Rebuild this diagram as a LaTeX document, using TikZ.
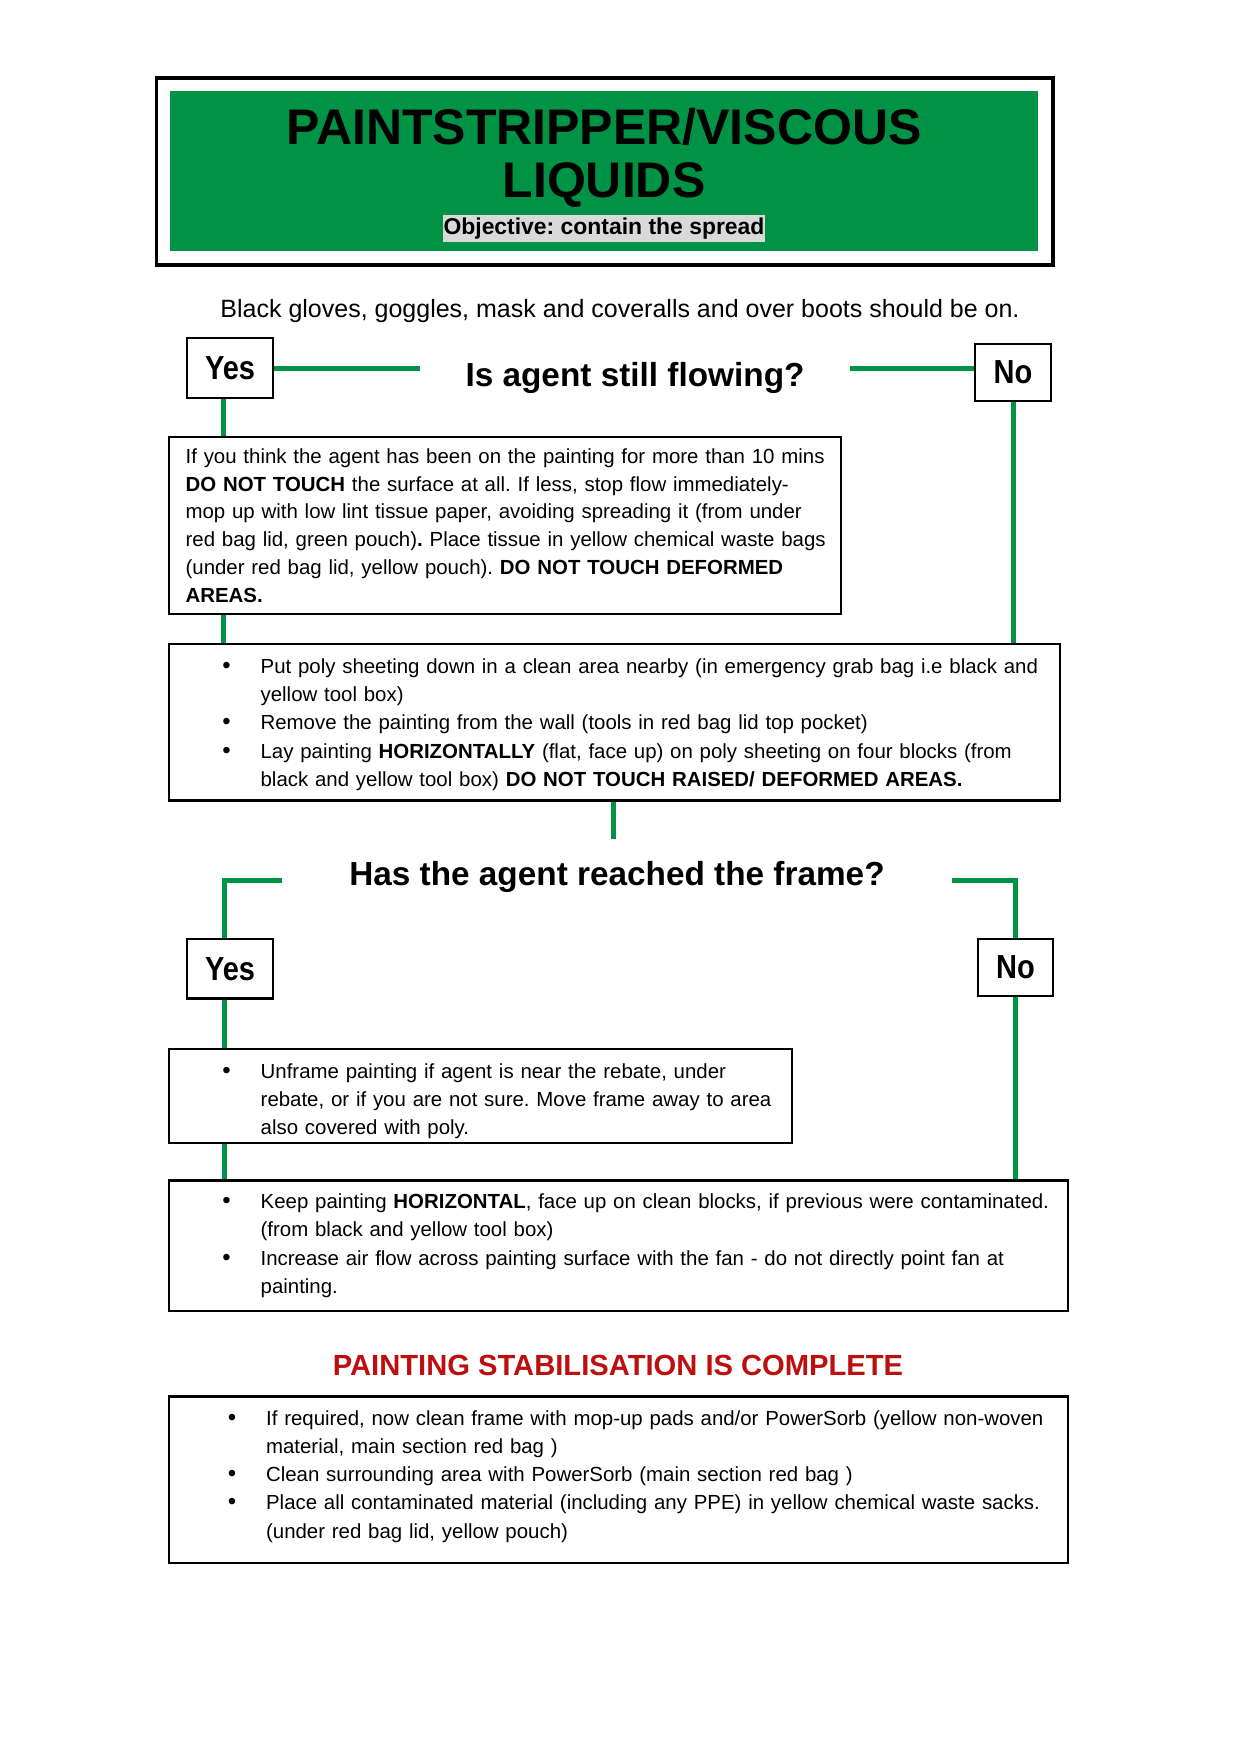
\documentclass[tikz,border=0pt]{standalone}
\usepackage{fontspec}
\setmainfont{Liberation Sans}
\newfontfamily\condb[FakeStretch=0.87]{Liberation Sans}
\usetikzlibrary{calc}
\AtBeginDocument{\frenchspacing}
\definecolor{fgreen}{RGB}{0,146,69}
\definecolor{objgray}{RGB}{217,217,217}
\definecolor{dred}{RGB}{190,15,15}
\newlength\bulind
\newlength\bulpos
\newcommand\bitem[1]{\par\hangindent=\bulind\hangafter=1\noindent\hbox to\bulind{\hskip\bulpos{\fontsize{11.5}{11.5}\selectfont\textbullet}\hfil}#1\par}
\newcommand\padb[1]{\par\vskip#1\hrule height 0pt\relax}
\newcommand\bodyfont{\fontsize{9.8}{13.3}\selectfont}
\newcommand\listfont{\fontsize{9.8}{13.55}\selectfont}
\newcommand\freeright{\raggedright\frenchspacing\rightskip=-40pt plus 1fil\relax}
\tikzset{
  infobox/.style={draw=black, line width=1.1pt, inner xsep=8pt, inner ysep=0pt, font=\bodyfont},
  listbox/.style={infobox, font=\listfont},
  ynbox/.style={draw=black, line width=1.1pt, inner sep=0pt, font=\condb\bfseries\fontsize{16}{18}\selectfont},
  question/.style={font=\bfseries\fontsize{16}{19}\selectfont, inner ysep=2pt},
  gline/.style={draw=fgreen, line width=2.4pt, line join=miter}
}
\begin{document}
\begin{tikzpicture}[x=0.48pt,y=-0.48pt]
\useasboundingbox (0,0) rectangle (1239,1753);
% title
\node[draw=black, line width=1.5pt, minimum width=430.3pt, minimum height=89.8pt, inner sep=0pt] (tbox) at (604.75,171.5) {};
\node[fill=fgreen, minimum width=416.6pt, minimum height=76.8pt, inner sep=0pt] (tgreen) at (604,170.5) {};
\node[font=\bfseries\fontsize{24}{28}\selectfont, inner sep=0pt] (t1) at (604,126.4) {PAINTSTRIPPER/VISCOUS};
\node[font=\bfseries\fontsize{24}{28}\selectfont, inner sep=0pt] (t2) at (604,184.5) {LIQUIDS};
\node[fill=objgray, font=\bfseries\fontsize{11}{13}\selectfont, minimum width=154.6pt, minimum height=12.7pt, inner sep=0pt] (obj) at (604,228.5) {Objective: contain the spread};
\node[font=\fontsize{12}{14}\selectfont, inner sep=0pt] (gloves) at (620,311) {Black gloves, goggles, mask and coveralls and over boots should be on.};
% first question
\node[ynbox, minimum width=41.3pt, minimum height=28.8pt] (yes1) at (230,368) {Yes};
\node[ynbox, minimum width=36.5pt, minimum height=27.4pt] (no1) at (1013,372.5) {No};
\node[question, inner xsep=21.6pt] (q1) at (635,378) {Is agent still flowing?};
\node[infobox, text width=306.6pt, minimum height=85pt] (b1) at (505,525.5) {\freeright
If you think the agent has been on the painting for more than 10 mins\newline
\textbf{DO NOT TOUCH} the surface at all. If less, stop flow immediately-\newline
mop up with low lint tissue paper, avoiding spreading it (from under\newline
red bag lid, green pouch)\textbf{.} Place tissue in yellow chemical waste bags\newline
(under red bag lid, yellow pouch). \textbf{DO NOT TOUCH DEFORMED}\newline
\textbf{AREAS.}\par};
\node[listbox, text width=411.7pt, minimum height=75.2pt] (b2) at (614.5,722.3) {\freeright\setlength\bulind{36pt}\setlength\bulpos{17.6pt}%
\bitem{Put poly sheeting down in a clean area nearby (in emergency grab bag i.e black and\newline yellow tool box)}%
\bitem{Remove the painting from the wall (tools in red bag lid top pocket)}%
\bitem{Lay painting \textbf{HORIZONTALLY} (flat, face up) on poly sheeting on four blocks (from\newline black and yellow tool box) \textbf{DO NOT TOUCH RAISED/ DEFORMED AREAS.}}\padb{4.3pt}};
\coordinate (yl1) at ([xshift=-3.1pt]yes1.south);
\draw[gline] (yes1.east) -- (yes1.east -| q1.west);
\draw[gline] (q1.east |- yes1.east) -- (no1.west |- yes1.east);
\draw[gline] (yl1) -- (yl1 |- b1.north);
\draw[gline] (yl1 |- b1.south) -- (yl1 |- b2.north);
\draw[gline] (no1.south) -- (no1.south |- b2.north);
% second question
\coordinate (v2) at (613,838.6);
\draw[gline] (b2.south -| v2) -- (v2);
\node[question, inner xsep=32pt] (q2) at (617,877.4) {Has the agent reached the frame?};
\node[ynbox, minimum width=41.3pt, minimum height=28.6pt] (yes2) at (230,968.75) {Yes};
\node[ynbox, minimum width=36pt, minimum height=27.4pt] (no2) at (1015.5,967.5) {No};
\node[listbox, text width=283pt, minimum height=45.1pt] (b3) at (480.5,1096) {\freeright\setlength\bulind{36pt}\setlength\bulpos{17.6pt}%
\bitem{Unframe painting if agent is near the rebate, under\newline rebate, or if you are not sure. Move frame away to area\newline also covered with poly.}\padb{1.7pt}};
\node[listbox, text width=415.5pt, minimum height=62.2pt] (b4) at (618.5,1245.75) {\freeright\setlength\bulind{36pt}\setlength\bulpos{17.6pt}%
\bitem{Keep painting \textbf{HORIZONTAL}, face up on clean blocks, if previous were contaminated.\newline (from black and yellow tool box)}%
\bitem{Increase air flow across painting surface with the fan - do not directly point fan at\newline painting.}\padb{6.4pt}};
\coordinate (yl2) at ([xshift=-2.5pt]yes2.south);
\draw[gline] ([yshift=-1.3pt]q2.west) -| (yl2 |- yes2.north);
\draw[gline] ([yshift=-1.3pt]q2.east) -| (no2.north);
\draw[gline] (yl2) -- (yl2 |- b3.north);
\draw[gline] (yl2 |- b3.south) -- (yl2 |- b4.north);
\draw[gline] (no2.south) -- (no2.south |- b4.north);
% completion
\node[font=\bfseries\fontsize{14}{16}\selectfont, text=dred, inner sep=0pt] (done) at (618,1365) {PAINTING STABILISATION IS COMPLETE};
\node[listbox, text width=415.5pt, minimum height=79.9pt] (b5) at (618.5,1479.8) {\freeright\setlength\bulind{38.6pt}\setlength\bulpos{20.2pt}%
\bitem{If required, now clean frame with mop-up pads and/or PowerSorb (yellow non-woven\newline material, main section red bag )}%
\bitem{Clean surrounding area with PowerSorb (main section red bag )}%
\bitem{Place all contaminated material (including any PPE) in yellow chemical waste sacks.\newline (under red bag lid, yellow pouch)}\padb{9.7pt}};
\end{tikzpicture}
\end{document}
